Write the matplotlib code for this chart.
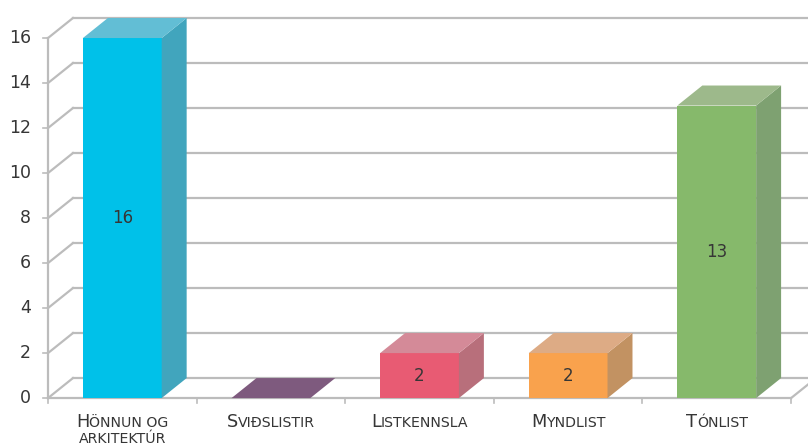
import matplotlib.pyplot as plt
from matplotlib.patches import Polygon
from matplotlib.transforms import ScaledTranslation

# data
categories = ["Hönnun og\narkitektúr", "Sviðslistir", "Listkennsla", "Myndlist", "Tónlist"]
values = [16, 0, 2, 2, 13]
y_ticks = [0, 2, 4, 6, 8, 10, 12, 14, 16]

front_colors = ["#00c1e9", "#7e5a7e", "#e85b73", "#f9a24d", "#86b96b"]
side_colors = ["#41a5bd", "#6c4f6c", "#b86f7b", "#c29262", "#7ea171"]
top_colors = ["#62bed5", "#7e5a7e", "#d48a98", "#ddab85", "#9db98b"]

# oblique depth offset (category units, value units)
dx, dy = 0.168, 0.89
bw = 0.53
grid_c = "#bcbcbc"
text_c = "#363636"
font = "DejaVu Sans"

fig = plt.figure(figsize=(8.08, 4.44), dpi=100)
ax = fig.add_axes([0, 0, 1, 1])
ax.set_xlim(-0.823, 4.614)
ax.set_ylim(-2.04, 17.69)
ax.axis("off")

x0, x1 = -0.5, len(categories) - 0.5

# back wall gridlines + side wall slants
for v in y_ticks:
    ax.plot([x0 + dx, x1 + dx], [v + dy, v + dy], color=grid_c, lw=1.6, zorder=1)
    ax.plot([x0, x0 + dx], [v, v + dy], color=grid_c, lw=1.6, zorder=1)
    ax.plot([x0 - 0.035, x0], [v, v], color=grid_c, lw=1.2, zorder=1)
    ax.text(x0 - 0.115, v, str(v), ha="right", va="center", fontsize=12.5,
            color=text_c, family=font)

# front axis, floor
ax.plot([x0, x0], [0, y_ticks[-1]], color=grid_c, lw=1.6, zorder=1)
ax.plot([x0, x1], [0, 0], color=grid_c, lw=1.6, zorder=1)
ax.plot([x1, x1 + dx], [0, dy], color=grid_c, lw=1.6, zorder=1)
for i in range(len(categories) + 1):
    ax.plot([x0 + i, x0 + i], [0, -0.22], color=grid_c, lw=1.2, zorder=1)

# bars
for i, v in enumerate(values):
    l, r = i - bw / 2, i + bw / 2
    if v > 0:
        ax.add_patch(Polygon([(l, 0), (r, 0), (r, v), (l, v)],
                             closed=True, fc=front_colors[i], ec="none", zorder=3))
        ax.add_patch(Polygon([(r, 0), (r + dx, dy), (r + dx, v + dy), (r, v)],
                             closed=True, fc=side_colors[i], ec="none", zorder=3))
        ax.add_patch(Polygon([(l, v), (l + dx, v + dy), (r + dx, v + dy), (r, v)],
                             closed=True, fc=top_colors[i], ec="none", zorder=3))
        ax.text(i, v / 2, str(v), ha="center", va="center", fontsize=12,
                color=text_c, family=font, zorder=4)
    else:
        ax.add_patch(Polygon([(l, 0), (l + dx, dy), (r + dx, dy), (r, 0)],
                             closed=True, fc=top_colors[i], ec="none", zorder=3))

# category labels in small caps
label_texts = []
for i, cat in enumerate(categories):
    for j, line in enumerate(cat.split("\n")):
        y = -1.3 - j * 0.68
        if j == 0:
            t1 = ax.text(i, y, line[0].upper(), fontsize=12.8, color=text_c,
                         ha="left", va="baseline", family=font)
            t2 = ax.text(i, y, line[1:].upper(), fontsize=10.2, color=text_c,
                         ha="left", va="baseline", family=font)
            label_texts.append((i, [t1, t2]))
        else:
            t = ax.text(i, y, line.upper(), fontsize=10.2, color=text_c,
                        ha="left", va="baseline", family=font)
            label_texts.append((i, [t]))

fig.canvas.draw()
r = fig.canvas.get_renderer()
for i, parts in label_texts:
    widths = [p.get_window_extent(r).width for p in parts]
    total = sum(widths)
    off = -total / 2
    for p, w in zip(parts, widths):
        p.set_transform(ax.transData + ScaledTranslation(off / fig.dpi, 0, fig.dpi_scale_trans))
        off += w

fig.savefig("out.png", dpi=100)
